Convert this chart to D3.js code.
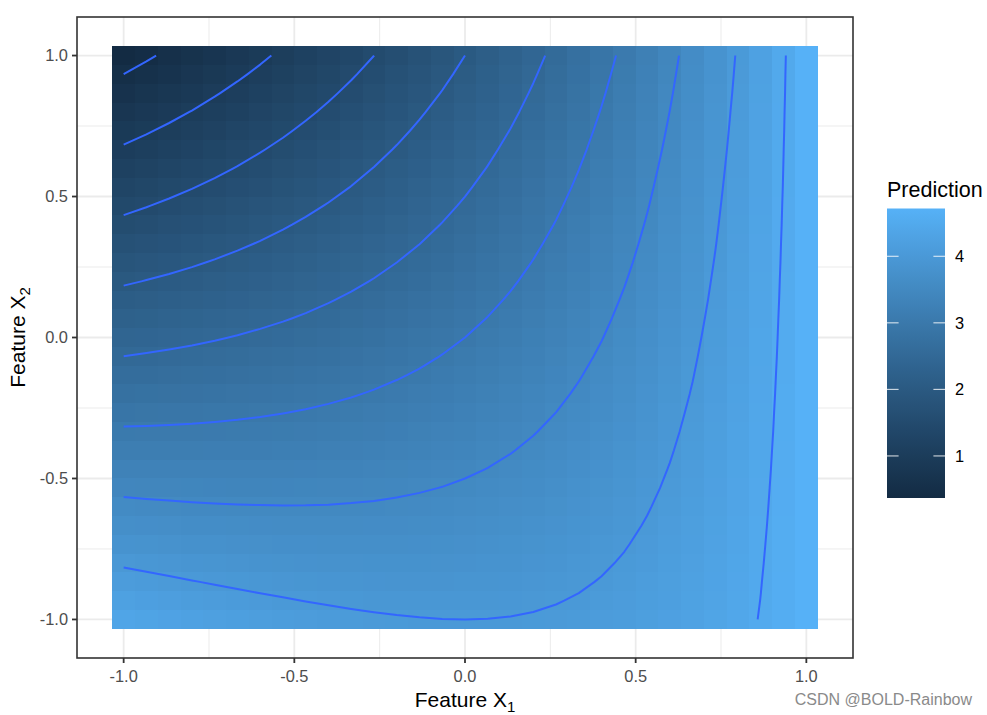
<!DOCTYPE html>
<html>
<head>
<meta charset="utf-8">
<script src="https://cdn.jsdelivr.net/npm/d3@7"></script>
<style>
  body { margin: 0; background: #fff; }
  svg text { font-family: "Liberation Sans", Arial, Helvetica, sans-serif; }
</style>
</head>
<body>
<script>
// Grid the model was evaluated on (31 x 31)
var x1Levels = [-1, -0.9333, -0.8667, -0.8, -0.7333, -0.6667, -0.6, -0.5333, -0.4667, -0.4, -0.3333,
  -0.2667, -0.2, -0.1333, -0.0667, 0, 0.0667, 0.1333, 0.2, 0.2667, 0.3333, 0.4, 0.4667, 0.5333,
  0.6, 0.6667, 0.7333, 0.8, 0.8667, 0.9333, 1];
// top of the plot to the bottom
var x2Levels = [1, 0.9333, 0.8667, 0.8, 0.7333, 0.6667, 0.6, 0.5333, 0.4667, 0.4, 0.3333,
  0.2667, 0.2, 0.1333, 0.0667, 0, -0.0667, -0.1333, -0.2, -0.2667, -0.3333, -0.4, -0.4667, -0.5333,
  -0.6, -0.6667, -0.7333, -0.8, -0.8667, -0.9333, -1];

// prediction[i][j] : x1 = x1Levels[i], x2 = x2Levels[j]
var prediction = [
  [0.368,0.501,0.635,0.768,0.901,1.035,1.168,1.301,1.435,1.568,1.701,1.835,1.968,2.101,2.235,2.368,2.501,2.635,2.768,2.901,3.035,3.168,3.301,3.435,3.568,3.701,3.835,3.968,4.101,4.235,4.368],
  [0.460,0.589,0.718,0.847,0.975,1.104,1.233,1.362,1.491,1.620,1.749,1.878,2.007,2.135,2.264,2.393,2.522,2.651,2.780,2.909,3.038,3.167,3.295,3.424,3.553,3.682,3.811,3.940,4.069,4.198,4.327],
  [0.554,0.678,0.803,0.927,1.051,1.176,1.300,1.425,1.549,1.674,1.798,1.923,2.047,2.171,2.296,2.420,2.545,2.669,2.794,2.918,3.043,3.167,3.291,3.416,3.540,3.665,3.789,3.914,4.038,4.163,4.287],
  [0.649,0.769,0.889,1.009,1.129,1.249,1.369,1.489,1.609,1.729,1.849,1.969,2.089,2.209,2.329,2.449,2.569,2.689,2.809,2.929,3.049,3.169,3.289,3.409,3.529,3.649,3.769,3.889,4.009,4.129,4.249],
  [0.747,0.863,0.978,1.094,1.209,1.325,1.440,1.556,1.671,1.787,1.903,2.018,2.134,2.249,2.365,2.480,2.596,2.711,2.827,2.943,3.058,3.174,3.289,3.405,3.520,3.636,3.751,3.867,3.983,4.098,4.214],
  [0.847,0.958,1.069,1.180,1.291,1.402,1.513,1.625,1.736,1.847,1.958,2.069,2.180,2.291,2.402,2.513,2.625,2.736,2.847,2.958,3.069,3.180,3.291,3.402,3.513,3.625,3.736,3.847,3.958,4.069,4.180],
  [0.949,1.055,1.162,1.269,1.375,1.482,1.589,1.695,1.802,1.909,2.015,2.122,2.229,2.335,2.442,2.549,2.655,2.762,2.869,2.975,3.082,3.189,3.295,3.402,3.509,3.615,3.722,3.829,3.935,4.042,4.149],
  [1.053,1.156,1.258,1.360,1.462,1.564,1.667,1.769,1.871,1.973,2.076,2.178,2.280,2.382,2.484,2.587,2.689,2.791,2.893,2.996,3.098,3.200,3.302,3.404,3.507,3.609,3.711,3.813,3.916,4.018,4.120],
  [1.160,1.258,1.356,1.454,1.552,1.649,1.747,1.845,1.943,2.040,2.138,2.236,2.334,2.432,2.529,2.627,2.725,2.823,2.920,3.018,3.116,3.214,3.312,3.409,3.507,3.605,3.703,3.800,3.898,3.996,4.094],
  [1.270,1.364,1.457,1.550,1.644,1.737,1.830,1.924,2.017,2.110,2.204,2.297,2.390,2.484,2.577,2.670,2.764,2.857,2.950,3.044,3.137,3.230,3.324,3.417,3.510,3.604,3.697,3.790,3.884,3.977,4.070],
  [1.383,1.472,1.561,1.650,1.739,1.828,1.917,2.005,2.094,2.183,2.272,2.361,2.450,2.539,2.628,2.717,2.805,2.894,2.983,3.072,3.161,3.250,3.339,3.428,3.517,3.605,3.694,3.783,3.872,3.961,4.050],
  [1.499,1.584,1.668,1.753,1.837,1.921,2.006,2.090,2.175,2.259,2.344,2.428,2.513,2.597,2.681,2.766,2.850,2.935,3.019,3.104,3.188,3.273,3.357,3.441,3.526,3.610,3.695,3.779,3.864,3.948,4.033],
  [1.619,1.699,1.779,1.859,1.939,2.019,2.099,2.179,2.259,2.339,2.419,2.499,2.579,2.659,2.739,2.819,2.899,2.979,3.059,3.139,3.219,3.299,3.379,3.459,3.539,3.619,3.699,3.779,3.859,3.939,4.019],
  [1.742,1.817,1.893,1.969,2.044,2.120,2.195,2.271,2.346,2.422,2.497,2.573,2.649,2.724,2.800,2.875,2.951,3.026,3.102,3.177,3.253,3.329,3.404,3.480,3.555,3.631,3.706,3.782,3.857,3.933,4.009],
  [1.869,1.940,2.011,2.082,2.153,2.224,2.296,2.367,2.438,2.509,2.580,2.651,2.722,2.793,2.864,2.936,3.007,3.078,3.149,3.220,3.291,3.362,3.433,3.504,3.576,3.647,3.718,3.789,3.860,3.931,4.002],
  [2.000,2.067,2.133,2.200,2.267,2.333,2.400,2.467,2.533,2.600,2.667,2.733,2.800,2.867,2.933,3.000,3.067,3.133,3.200,3.267,3.333,3.400,3.467,3.533,3.600,3.667,3.733,3.800,3.867,3.933,4.000],
  [2.136,2.198,2.260,2.322,2.384,2.447,2.509,2.571,2.633,2.696,2.758,2.820,2.882,2.944,3.007,3.069,3.131,3.193,3.256,3.318,3.380,3.442,3.504,3.567,3.629,3.691,3.753,3.816,3.878,3.940,4.002],
  [2.276,2.334,2.392,2.449,2.507,2.565,2.623,2.680,2.738,2.796,2.854,2.912,2.969,3.027,3.085,3.143,3.200,3.258,3.316,3.374,3.432,3.489,3.547,3.605,3.663,3.720,3.778,3.836,3.894,3.952,4.009],
  [2.421,2.475,2.528,2.581,2.635,2.688,2.741,2.795,2.848,2.901,2.955,3.008,3.061,3.115,3.168,3.221,3.275,3.328,3.381,3.435,3.488,3.541,3.595,3.648,3.701,3.755,3.808,3.861,3.915,3.968,4.021],
  [2.572,2.621,2.670,2.719,2.768,2.817,2.866,2.914,2.963,3.012,3.061,3.110,3.159,3.208,3.257,3.306,3.354,3.403,3.452,3.501,3.550,3.599,3.648,3.697,3.746,3.794,3.843,3.892,3.941,3.990,4.039],
  [2.729,2.773,2.818,2.862,2.907,2.951,2.996,3.040,3.085,3.129,3.173,3.218,3.262,3.307,3.351,3.396,3.440,3.485,3.529,3.573,3.618,3.662,3.707,3.751,3.796,3.840,3.885,3.929,3.973,4.018,4.062],
  [2.892,2.932,2.972,3.012,3.052,3.092,3.132,3.172,3.212,3.252,3.292,3.332,3.372,3.412,3.452,3.492,3.532,3.572,3.612,3.652,3.692,3.732,3.772,3.812,3.852,3.892,3.932,3.972,4.012,4.052,4.092],
  [3.061,3.097,3.132,3.168,3.204,3.239,3.275,3.310,3.346,3.381,3.417,3.452,3.488,3.524,3.559,3.595,3.630,3.666,3.701,3.737,3.772,3.808,3.844,3.879,3.915,3.950,3.986,4.021,4.057,4.092,4.128],
  [3.238,3.269,3.300,3.331,3.362,3.393,3.425,3.456,3.487,3.518,3.549,3.580,3.611,3.642,3.673,3.705,3.736,3.767,3.798,3.829,3.860,3.891,3.922,3.953,3.985,4.016,4.047,4.078,4.109,4.140,4.171],
  [3.422,3.449,3.475,3.502,3.529,3.555,3.582,3.609,3.635,3.662,3.689,3.715,3.742,3.769,3.795,3.822,3.849,3.875,3.902,3.929,3.955,3.982,4.009,4.035,4.062,4.089,4.115,4.142,4.169,4.195,4.222],
  [3.614,3.637,3.659,3.681,3.703,3.726,3.748,3.770,3.792,3.814,3.837,3.859,3.881,3.903,3.926,3.948,3.970,3.992,4.014,4.037,4.059,4.081,4.103,4.126,4.148,4.170,4.192,4.214,4.237,4.259,4.281],
  [3.815,3.833,3.851,3.869,3.886,3.904,3.922,3.940,3.958,3.975,3.993,4.011,4.029,4.046,4.064,4.082,4.100,4.118,4.135,4.153,4.171,4.189,4.206,4.224,4.242,4.260,4.278,4.295,4.313,4.331,4.349],
  [4.026,4.039,4.052,4.066,4.079,4.092,4.106,4.119,4.132,4.146,4.159,4.172,4.186,4.199,4.212,4.226,4.239,4.252,4.266,4.279,4.292,4.306,4.319,4.332,4.346,4.359,4.372,4.386,4.399,4.412,4.426],
  [4.246,4.255,4.263,4.272,4.281,4.290,4.299,4.308,4.317,4.326,4.335,4.343,4.352,4.361,4.370,4.379,4.388,4.397,4.406,4.415,4.423,4.432,4.441,4.450,4.459,4.468,4.477,4.486,4.495,4.503,4.512],
  [4.476,4.481,4.485,4.490,4.494,4.499,4.503,4.507,4.512,4.516,4.521,4.525,4.530,4.534,4.539,4.543,4.547,4.552,4.556,4.561,4.565,4.570,4.574,4.579,4.583,4.587,4.592,4.596,4.601,4.605,4.610],
  [4.718,4.718,4.718,4.718,4.718,4.718,4.718,4.718,4.718,4.718,4.718,4.718,4.718,4.718,4.718,4.718,4.718,4.718,4.718,4.718,4.718,4.718,4.718,4.718,4.718,4.718,4.718,4.718,4.718,4.718,4.718]
];

var contourBreaks = [0.5, 1, 1.5, 2, 2.5, 3, 3.5, 4, 4.5];
var axisBreaks = [-1, -0.5, 0, 0.5, 1];
var minorBreaks = [-0.75, -0.25, 0.25, 0.75];
var legendBreaks = [1, 2, 3, 4];

// Set up size
var width = 987;
var height = 715;
var panel = {left: 77, right: 853, top: 17, bottom: 658};

var svg = d3.select('body').append('svg')
  .attr('width', width)
  .attr('height', height);

svg.append('rect').attr('width', width).attr('height', height).attr('fill', '#fff');

// scales, with ggplot's 5% expansion around the tile extent
var nx = x1Levels.length, ny = x2Levels.length;
var step = x1Levels[1] - x1Levels[0];
var x1Ext = d3.extent(x1Levels), x2Ext = d3.extent(x2Levels);
x1Ext = [x1Ext[0] - step / 2, x1Ext[1] + step / 2];
x2Ext = [x2Ext[0] - step / 2, x2Ext[1] + step / 2];
var padX = (x1Ext[1] - x1Ext[0]) * 0.05, padY = (x2Ext[1] - x2Ext[0]) * 0.05;

var xScale = d3.scaleLinear()
  .domain([x1Ext[0] - padX, x1Ext[1] + padX])
  .range([panel.left, panel.right]);
var yScale = d3.scaleLinear()
  .domain([x2Ext[0] - padY, x2Ext[1] + padY])
  .range([panel.bottom, panel.top]);

var allValues = d3.merge(prediction);
var fill = d3.scaleLinear()
  .domain(d3.extent(allValues))
  .range(['#132B43', '#56B1F7'])
  .interpolate(d3.interpolateLab);

// grid lines
var grid = svg.append('g');
minorBreaks.forEach(function(b) {
  grid.append('line').attr('x1', xScale(b)).attr('x2', xScale(b))
    .attr('y1', panel.top).attr('y2', panel.bottom)
    .attr('stroke', '#EBEBEB').attr('stroke-width', 1);
  grid.append('line').attr('y1', yScale(b)).attr('y2', yScale(b))
    .attr('x1', panel.left).attr('x2', panel.right)
    .attr('stroke', '#EBEBEB').attr('stroke-width', 1);
});
axisBreaks.forEach(function(b) {
  grid.append('line').attr('x1', xScale(b)).attr('x2', xScale(b))
    .attr('y1', panel.top).attr('y2', panel.bottom)
    .attr('stroke', '#EBEBEB').attr('stroke-width', 1.8);
  grid.append('line').attr('y1', yScale(b)).attr('y2', yScale(b))
    .attr('x1', panel.left).attr('x2', panel.right)
    .attr('stroke', '#EBEBEB').attr('stroke-width', 1.8);
});

// tiles
var tiles = [];
prediction.forEach(function(col, i) {
  col.forEach(function(v, j) {
    tiles.push({x1: x1Levels[i], x2: x2Levels[j], value: v});
  });
});

svg.append('g')
  .attr('shape-rendering', 'crispEdges')
  .selectAll('rect')
  .data(tiles)
  .enter().append('rect')
  .attr('x', function(d) { return xScale(d.x1 - step / 2); })
  .attr('y', function(d) { return yScale(d.x2 + step / 2); })
  .attr('width', function(d) { return xScale(d.x1 + step / 2) - xScale(d.x1 - step / 2); })
  .attr('height', function(d) { return yScale(d.x2 - step / 2) - yScale(d.x2 + step / 2); })
  .attr('fill', function(d) { return fill(d.value); });

// contour lines, row-major grid for d3.contours
var flat = [];
for (var j = 0; j < ny; j++) {
  for (var i = 0; i < nx; i++) flat.push(prediction[i][j]);
}
var bands = d3.contours().size([nx, ny]).thresholds(contourBreaks)(flat);

// grid coordinate -> pixel (value k sits at k + 0.5)
var gx = d3.scaleLinear().domain([0.5, nx - 0.5]).range([xScale(x1Levels[0]), xScale(x1Levels[nx - 1])]);
var gy = d3.scaleLinear().domain([0.5, ny - 0.5]).range([yScale(x2Levels[0]), yScale(x2Levels[ny - 1])]);

function onEdge(p) {
  return p[0] === 0 || p[0] === nx || p[1] === 0 || p[1] === ny;
}

// keep only the iso lines, dropping the parts that run along the grid border
function isolines(geom) {
  var lines = [];
  geom.coordinates.forEach(function(poly) {
    poly.forEach(function(ring) {
      var pts = ring.slice(0, -1);
      var start = pts.findIndex(onEdge);
      if (start < 0) { lines.push(ring); return; }
      var cur = [];
      for (var k = 1; k <= pts.length; k++) {
        var p = pts[(start + k) % pts.length];
        if (onEdge(p)) {
          if (cur.length > 1) lines.push(cur);
          cur = [];
        } else {
          cur.push(p);
        }
      }
      if (cur.length > 1) lines.push(cur);
    });
  });
  return lines;
}

var contourLine = d3.line()
  .x(function(p) { return gx(p[0]); })
  .y(function(p) { return gy(p[1]); });

var contourG = svg.append('g');
bands.forEach(function(b) {
  isolines(b).forEach(function(line) {
    contourG.append('path')
      .attr('d', contourLine(line))
      .attr('fill', 'none')
      .attr('stroke', '#3366FF')
      .attr('stroke-width', 2)
      .attr('stroke-linejoin', 'round');
  });
});

// panel border
svg.append('rect')
  .attr('x', panel.left).attr('y', panel.top)
  .attr('width', panel.right - panel.left).attr('height', panel.bottom - panel.top)
  .attr('fill', 'none').attr('stroke', '#333333').attr('stroke-width', 1.6);

// axes
var fmt = function(d) { return d.toFixed(1); };
var axisG = svg.append('g');
axisBreaks.forEach(function(b) {
  axisG.append('line')
    .attr('x1', xScale(b)).attr('x2', xScale(b))
    .attr('y1', panel.bottom).attr('y2', panel.bottom + 5)
    .attr('stroke', '#333333').attr('stroke-width', 1.8);
  axisG.append('text')
    .attr('x', xScale(b)).attr('y', panel.bottom + 24)
    .attr('text-anchor', 'middle')
    .attr('font-size', '16.4px').attr('fill', '#4D4D4D')
    .text(fmt(b));
  axisG.append('line')
    .attr('y1', yScale(b)).attr('y2', yScale(b))
    .attr('x1', panel.left - 5).attr('x2', panel.left)
    .attr('stroke', '#333333').attr('stroke-width', 1.8);
  axisG.append('text')
    .attr('x', panel.left - 9).attr('y', yScale(b))
    .attr('dy', '0.36em')
    .attr('text-anchor', 'end')
    .attr('font-size', '16.4px').attr('fill', '#4D4D4D')
    .text(fmt(b));
});

// axis titles
var xTitle = svg.append('text')
  .attr('x', (panel.left + panel.right) / 2).attr('y', 707)
  .attr('text-anchor', 'middle')
  .attr('font-size', '21px').attr('fill', '#000');
xTitle.append('tspan').text('Feature X');
xTitle.append('tspan').attr('dy', 5).attr('font-size', '15px').text('1');

var yTitle = svg.append('text')
  .attr('transform', 'translate(25,' + (panel.top + panel.bottom) / 2 + ') rotate(-90)')
  .attr('text-anchor', 'middle')
  .attr('font-size', '21px').attr('fill', '#000');
yTitle.append('tspan').text('Feature X');
yTitle.append('tspan').attr('dy', 5).attr('font-size', '15px').text('2');

// legend
var bar = {x: 887, y: 208.5, w: 58, h: 289.5};
var legendScale = d3.scaleLinear().domain(fill.domain()).range([bar.y + bar.h, bar.y]);

var grad = svg.append('defs').append('linearGradient')
  .attr('id', 'predGrad')
  .attr('x1', 0).attr('y1', 1).attr('x2', 0).attr('y2', 0);
d3.range(0, 1.0001, 0.05).forEach(function(t) {
  var v = fill.domain()[0] + t * (fill.domain()[1] - fill.domain()[0]);
  grad.append('stop').attr('offset', t).attr('stop-color', fill(v));
});

svg.append('text')
  .attr('x', bar.x).attr('y', 197)
  .attr('font-size', '21.5px').attr('fill', '#000')
  .text('Prediction');

svg.append('rect')
  .attr('x', bar.x).attr('y', bar.y)
  .attr('width', bar.w).attr('height', bar.h)
  .attr('fill', 'url(#predGrad)');

legendBreaks.forEach(function(b) {
  var y = legendScale(b);
  svg.append('line')
    .attr('x1', bar.x).attr('x2', bar.x + bar.w / 5)
    .attr('y1', y).attr('y2', y)
    .attr('stroke', '#fff').attr('stroke-opacity', 0.8).attr('stroke-width', 1.1);
  svg.append('line')
    .attr('x1', bar.x + bar.w * 4 / 5).attr('x2', bar.x + bar.w)
    .attr('y1', y).attr('y2', y)
    .attr('stroke', '#fff').attr('stroke-opacity', 0.8).attr('stroke-width', 1.1);
  svg.append('text')
    .attr('x', bar.x + bar.w + 10).attr('y', y)
    .attr('dy', '0.36em')
    .attr('font-size', '16.4px').attr('fill', '#000')
    .text(b);
});

// watermark
svg.append('text')
  .attr('x', 972).attr('y', 705)
  .attr('text-anchor', 'end')
  .attr('font-size', '16px').attr('fill', '#8a8a8a')
  .text('CSDN @BOLD-Rainbow');
</script>
</body>
</html>
